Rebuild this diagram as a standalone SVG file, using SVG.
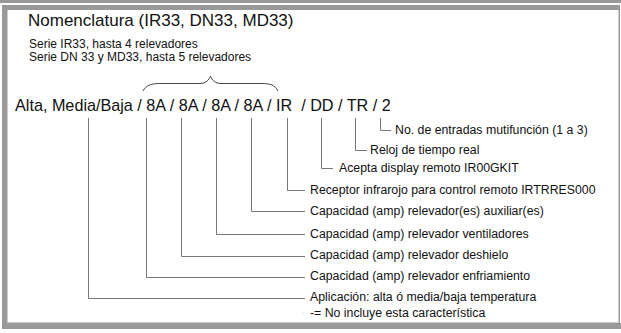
<svg xmlns="http://www.w3.org/2000/svg" width="621" height="333" viewBox="0 0 621 333">
<style>
text{font-family:"Liberation Sans",Arial,sans-serif;fill:#111}
.t{font-size:17px}
.s{font-size:12px}
.l{font-size:12.3px}
.m{font-size:16.2px}
.c{fill:none;stroke:#777;stroke-width:1}
.b{fill:#999}
</style>
<rect width="621" height="333" fill="#fff"/>
<g id="frame">
<rect class="b" x="0" y="0" width="621" height="3"/>
<rect class="b" x="2" y="5" width="618" height="5"/>
<rect class="b" x="2" y="5" width="5" height="324"/>
<rect class="b" x="618.5" y="5" width="1.5" height="324"/>
<rect class="b" x="2" y="323" width="619" height="6"/>
<line x1="7.5" y1="10" x2="7.5" y2="323" stroke="#ccc" stroke-width="1"/>
<line x1="7" y1="322.5" x2="618" y2="322.5" stroke="#ccc" stroke-width="1"/>
</g>
<g id="title">
<text class="t" x="28" y="26">Nomenclatura (IR33, DN33, MD33)</text>
<text class="s" x="29" y="48">Serie IR33, hasta 4 relevadores</text>
<text class="s" x="29" y="61">Serie DN 33 y MD33, hasta 5 relevadores</text>
</g>
<g id="brace">
<path class="c" style="stroke:#444" d="M143,91 C146,85 152,83.5 160,83.5 L200,83.5 C206,83.5 209,80 210.5,76 C212,80 215,83.5 221,83.5 L262,83.5 C270,83.5 275,85 278,91"/>
</g>
<g id="code">
<text class="m" x="15" y="111" xml:space="preserve">Alta, Media/Baja / 8A / 8A / 8A / 8A / IR  / DD / TR / 2</text>
</g>
<g id="connectors">
<path class="c" d="M380.5,118 V130.5 H391"/>
<path class="c" d="M355.5,118 V150.5 H367"/>
<path class="c" d="M321.5,118 V168.5 H333"/>
<path class="c" d="M287.5,118 V190.5 H305"/>
<path class="c" d="M251.5,118 V211.5 H305"/>
<path class="c" d="M216.5,118 V234.5 H305"/>
<path class="c" d="M181.5,118 V256.5 H305"/>
<path class="c" d="M146.5,118 V277.5 H305"/>
<path class="c" d="M88.5,118 V298.5 H305"/>
<rect x="302.5" y="312.5" width="1" height="1" fill="#ccc"/>
</g>
<g id="labels">
<text class="l" x="395" y="134">No. de entradas mutifunción (1 a 3)</text>
<text class="l" x="370" y="154">Reloj de tiempo real</text>
<text class="l" x="339" y="172">Acepta display remoto IR00GKIT</text>
<text class="l" x="310" y="194">Receptor infrarojo para control remoto IRTRRES000</text>
<text class="l" x="310" y="215">Capacidad (amp) relevador(es) auxiliar(es)</text>
<text class="l" x="310" y="238">Capacidad (amp) relevador ventiladores</text>
<text class="l" x="310" y="259">Capacidad (amp) relevador deshielo</text>
<text class="l" x="310" y="280">Capacidad (amp) relevador enfriamiento</text>
<text class="l" x="310" y="301">Aplicación: alta ó media/baja temperatura</text>
<text class="l" x="310" y="317">-= No incluye esta característica</text>
</g>
</svg>
